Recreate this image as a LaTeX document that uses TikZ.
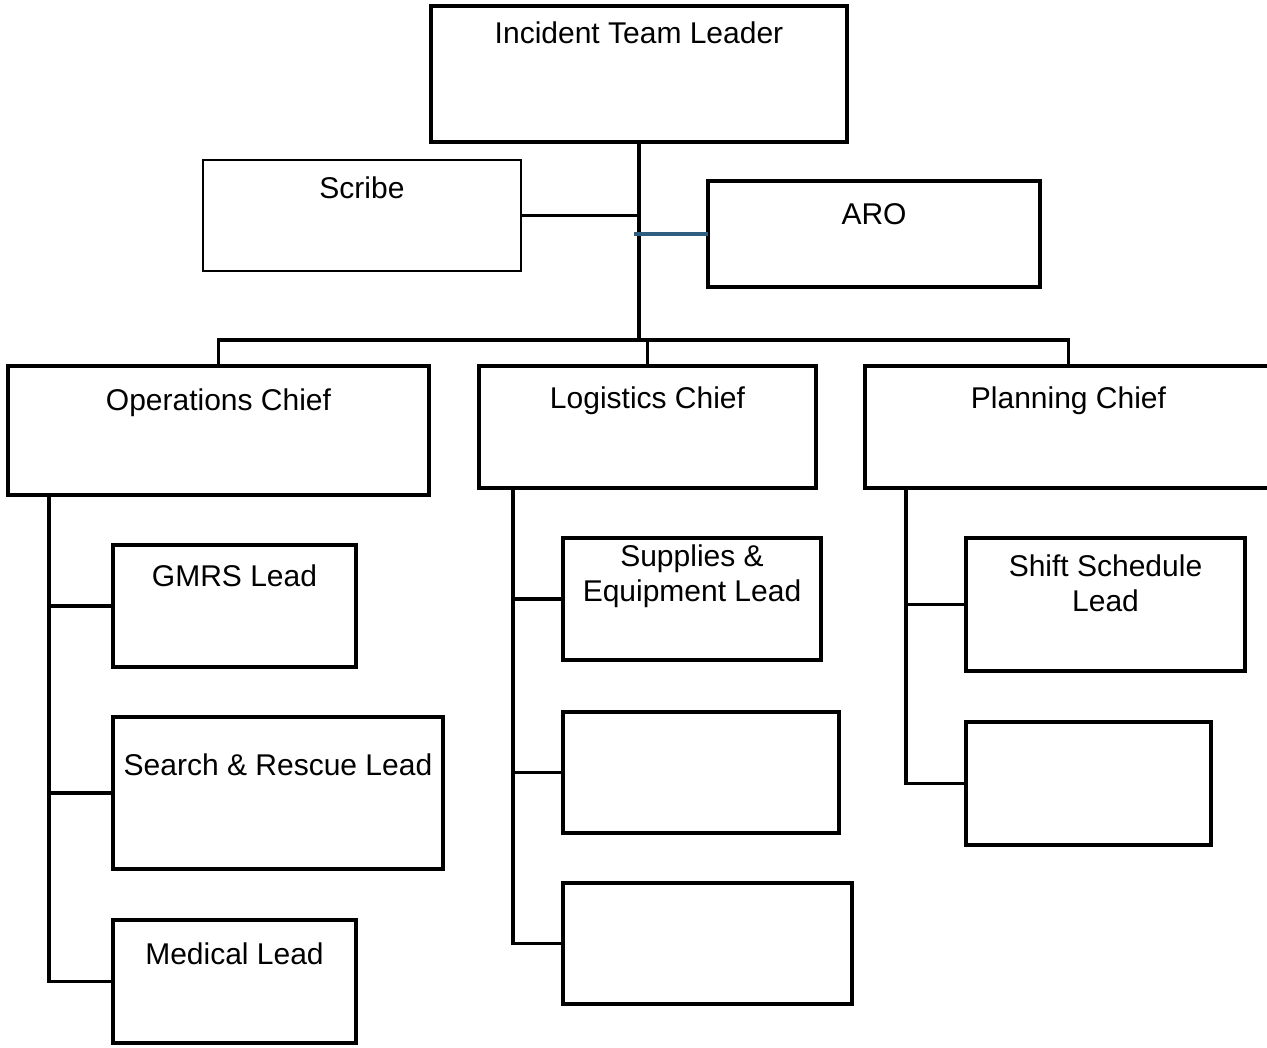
\documentclass[tikz,border=0pt]{standalone}
\usepackage{fontspec}
\setmainfont{Liberation Sans}
\usetikzlibrary{fit}
\definecolor{aroblue}{HTML}{2E5F80}
\begin{document}
\begin{tikzpicture}[x=0.75pt,y=-0.75pt,
  box/.style={draw=black, line width=2.6pt, inner sep=0pt, outer sep=0pt, rectangle},
  lbl/.style={font=\fontsize{22.5}{26.25}\selectfont, align=center, anchor=base, inner sep=0pt, label distance=0pt},
  conn/.style={draw=black, line width=2.4pt},
  thin/.style={draw=black, line width=1.9pt}]
\useasboundingbox (0,0) rectangle (1267,1047);
% top level
\node[box, fit={(431,6) (847,142)}, label={[lbl, yshift=-27.75pt]north:Incident Team Leader}] (itl) {};
\node[box, line width=2.2pt, fit={(203,160) (521,271)}, label={[lbl, yshift=-28.5pt]north:Scribe}] (scribe) {};
\node[box, line width=3pt, fit={(708,181) (1040,287)}, label={[lbl, yshift=-32.25pt]north:ARO}] (aro) {};
% chiefs
\node[box, fit={(8,366) (429,495)}, label={[lbl, yshift=-33pt]north:Operations Chief}] (ops) {};
\node[box, fit={(479,366) (816,488)}, label={[lbl, yshift=-31.5pt]north:Logistics Chief}] (log) {};
\node[box, fit={(865,366) (1272,488)}, label={[lbl, yshift=-31.5pt]north:Planning Chief}] (plan) {};
% operations leads
\node[box, fit={(113,545) (356,667)}, label={[lbl, yshift=-30.75pt]north:GMRS Lead}] (gmrs) {};
\node[box, fit={(113,717) (443,869)}, label={[lbl, yshift=-43.5pt]north:Search \& Rescue Lead}] (sar) {};
\node[box, fit={(113,920) (356,1043)}, label={[lbl, yshift=-33pt]north:Medical Lead}] (med) {};
% logistics leads
\node[box, fit={(563,538) (821,660)}, label={[lbl, yshift=-47.25pt]north:Supplies \&\\Equipment Lead}] (sup) {};
\node[box, fit={(563,712) (839,833)}] (loga) {};
\node[box, fit={(563,883) (852,1004)}] (logb) {};
% planning leads
\node[box, fit={(966,538) (1245,671)}, label={[lbl, yshift=-54.75pt]north:Shift Schedule\\Lead}] (shift) {};
\node[box, fit={(966,722) (1211,845)}] (plana) {};
% connectors
\coordinate (j) at (639,340);
\draw[conn] (itl.south) -- (j);
\draw[thin] (scribe.east) -- (scribe.east -| itl.south);
\draw[draw=aroblue, line width=2.6pt] ([xshift=-3.75pt]aro.west -| itl.south) -- (aro.west);
\draw[conn] (ops.north) |- (j) -| (plan.north);
\draw[conn] (log.north) -- (log.north |- j);
% spines
\coordinate (opsS) at ([xshift=30.75pt]ops.south west);
\coordinate (logS) at ([xshift=25.5pt]log.south west);
\coordinate (planS) at ([xshift=30.75pt]plan.south west);
\draw[conn] (opsS) |- (med.west);
\draw[conn] (gmrs.west) -- (gmrs.west -| opsS);
\draw[conn] (sar.west) -- (sar.west -| opsS);
\draw[conn] (logS) |- (logb.west);
\draw[conn] (sup.west) -- (sup.west -| logS);
\draw[conn] (loga.west) -- (loga.west -| logS);
\draw[conn] (planS) |- (plana.west);
\draw[conn] (shift.west) -- (shift.west -| planS);
\end{tikzpicture}
\end{document}
